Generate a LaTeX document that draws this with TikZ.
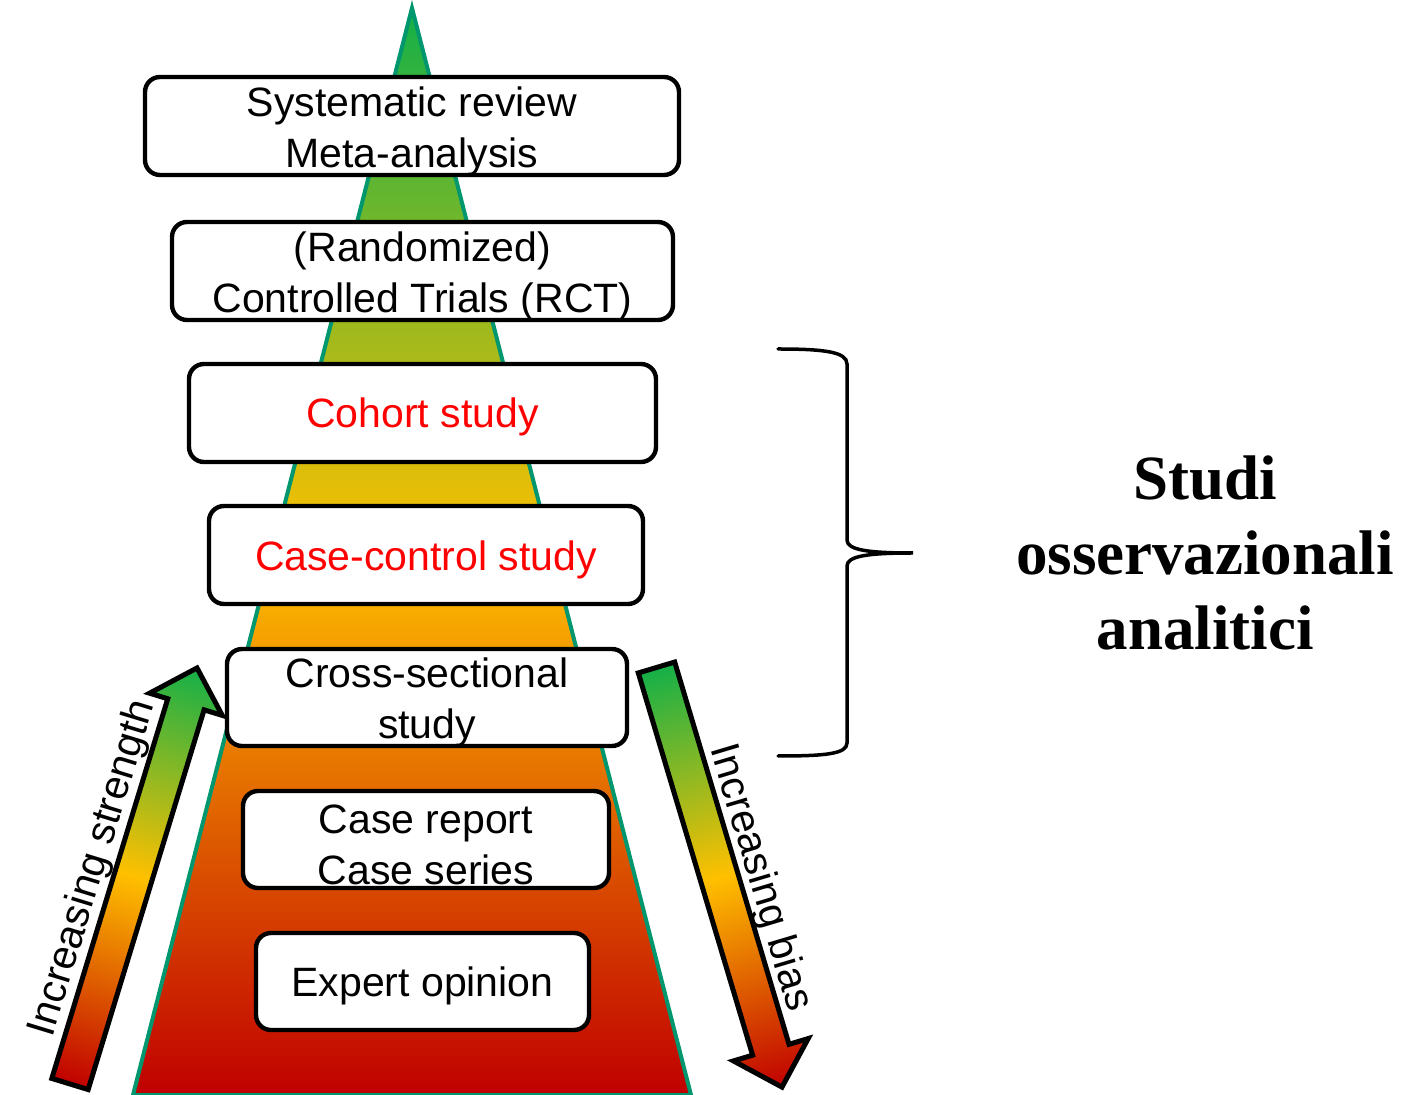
\documentclass[tikz,border=0pt]{standalone}
\usepackage{fontspec}
\setmainfont{Liberation Sans}
\newfontfamily\serifbold{Liberation Serif}

\definecolor{pgreen}{RGB}{20,176,72}
\definecolor{pgold}{RGB}{255,192,0}
\definecolor{pred}{RGB}{192,0,0}
\definecolor{pline}{RGB}{0,150,110}
\definecolor{tred}{RGB}{255,0,0}

% green at the apex, gold half way, red at the base
\pgfdeclareverticalshading{pyramidfill}{100bp}{%
  color(0bp)=(pred); color(25bp)=(pred); color(50bp)=(pgold);
  color(75bp)=(pgreen); color(100bp)=(pgreen)}

\tikzset{
  level/.style={draw=black, line width=2.2pt, fill=white, rounded corners=7.5pt,
    inner sep=0pt},
  leveltext/.style={align=center, inner sep=0pt,
    font=\fontsize{20.5pt}{25.5pt}\selectfont},
  redtext/.style={text=tred},
  arrowlabel/.style={anchor=base, inner sep=0pt,
    font=\fontsize{20.5pt}{25pt}\selectfont},
  bigarrow/.style={draw=black, line width=2.5pt, line join=miter},
}

\begin{document}
\begin{tikzpicture}[x=0.5pt, y=-0.5pt]
\useasboundingbox (0,0) rectangle (1409,1095);

% evidence pyramid
\shadedraw[shading=pyramidfill, draw=pline, line width=2pt]
  (412,8) -- (691,1095) -- (133,1095) -- cycle;

% levels of evidence: frames
\node[level, minimum width=267pt, minimum height=49pt] (sr) at (412,126) {};
\node[level, minimum width=250.5pt, minimum height=49pt] (rct) at (422.5,271) {};
\node[level, minimum width=233.5pt, minimum height=49pt] (cohort) at (422.5,413) {};
\node[level, minimum width=217pt, minimum height=49pt] (cc) at (426,555) {};
\node[level, minimum width=200pt, minimum height=48.5pt] (cs) at (427,697.5) {};
\node[level, minimum width=183pt, minimum height=48.5pt] (cr) at (426,839.5) {};
\node[level, minimum width=166.5pt, minimum height=48.5pt] (eo) at (422.5,981.5) {};

% levels of evidence: texts
\node[leveltext] (srt) at ([yshift=-2.5pt]sr.center) {Systematic review\\Meta-analysis};
\node[leveltext] (rctt) at ([yshift=-2.5pt]rct.center) {(Randomized)\\Controlled Trials (RCT)};
\node[leveltext, redtext] (cohortt) at ([yshift=-2pt]cohort.center) {Cohort study};
\node[leveltext, redtext] (cct) at ([yshift=-2.5pt]cc.center) {Case-control study};
\node[leveltext] (cst) at ([yshift=-2.5pt]cs.center) {Cross-sectional\\study};
\node[leveltext] (crt) at ([yshift=-2.5pt]cr.center) {Case report\\Case series};
\node[leveltext] (eot) at ([yshift=-2pt]eo.center) {Expert opinion};

% increasing strength (upwards, left side)
\begin{scope}[transform canvas={shift={(35pt,-542pt)}, rotate=73.02}, x=0.5pt, y=0.5pt]
  \path[bigarrow, left color=pred, right color=pgreen, middle color=pgold]
    (0,-19) -- (397,-19) -- (397,-38) -- (435,0) -- (397,38) -- (397,19) -- (0,19) -- cycle;
  \node[arrowlabel] (strength) at (213,30) {Increasing strength};
\end{scope}

% increasing bias (downwards, right side)
\begin{scope}[transform canvas={shift={(328.25pt,-333.75pt)}, rotate=-73.35}, x=0.5pt, y=0.5pt]
  \path[bigarrow, left color=pgreen, right color=pred, middle color=pgold]
    (0,-19) -- (399,-19) -- (399,-39) -- (438,0) -- (399,39) -- (399,19) -- (0,19) -- cycle;
  \node[arrowlabel] (bias) at (231,28) {Increasing bias};
\end{scope}

% brace grouping the analytic observational studies
\coordinate (btop) at (778,349);
\coordinate (btip) at (913,553);
\coordinate (bbot) at (778,756);
\draw[line width=1.75pt, line cap=round]
  (btop) .. controls (825,349) and (847,352) .. (847,364)
  -- (847,540) .. controls (847,550) and (868,553) .. (btip)
  .. controls (868,553) and (847,556) .. (847,566)
  -- (847,743) .. controls (847,754) and (825,756) .. (bbot);

\node[align=center, inner sep=0pt,
  font=\serifbold\bfseries\fontsize{31.5pt}{37.5pt}\selectfont] (studi) at (1205,553)
  {Studi\\osservazionali\\analitici};
\end{tikzpicture}
\end{document}
